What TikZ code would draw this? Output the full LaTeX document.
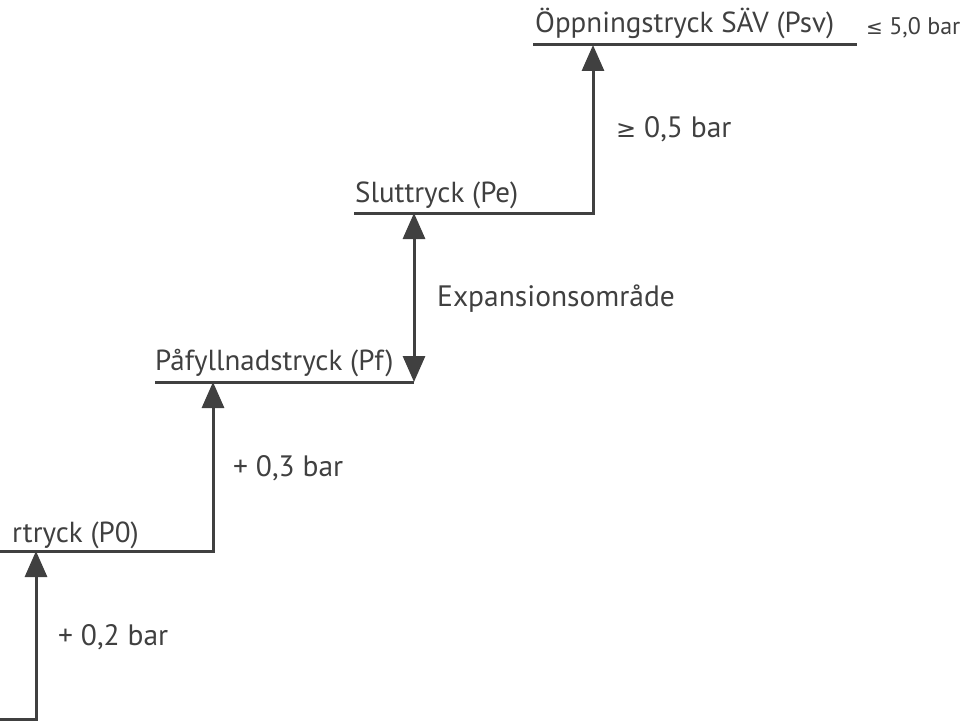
\documentclass[tikz,border=0pt]{standalone}
\usepackage{fontspec}
\setmainfont{PT Sans}
\newfontfamily\symf{DejaVu Sans}
\usetikzlibrary{arrows.meta}
\definecolor{ink}{HTML}{404040}
\begin{document}
\begin{tikzpicture}[x=1pt,y=-1pt,
  line/.style={draw=ink,line width=3pt,line join=miter},
  arr/.style={line,-{Triangle[length=26pt,width=22pt]}},
  darr/.style={line,{Triangle[length=26pt,width=22pt]}-{Triangle[length=26pt,width=22pt]}},
  lvl/.style={text=ink,font=\fontsize{29}{34}\selectfont,anchor=base west,inner sep=0pt},
  lab/.style={text=ink,font=\fontsize{29.5}{34}\selectfont,anchor=base west,inner sep=0pt},
  sml/.style={text=ink,font=\fontsize{24}{28}\selectfont,anchor=base west,inner sep=0pt}]
\useasboundingbox (0,0) rectangle (965,722);
% coordinates
\coordinate (b0) at (0,719);
\coordinate (b1) at (36,719);
\coordinate (p0l) at (0,551);
\coordinate (p0a) at (36,551);
\coordinate (p0r) at (213,551);
\coordinate (pfl) at (155,382);
\coordinate (pfa) at (213,382);
\coordinate (pfr) at (414,382);
\coordinate (pel) at (354,213);
\coordinate (pea) at (414,213);
\coordinate (per) at (593,213);
\coordinate (psl) at (533,45);
\coordinate (psa) at (593,45);
\coordinate (psr) at (857,45);
% steps
\draw[arr] (b0) -- (b1) -- (p0a);
\draw[arr] (p0l) -- (p0r) -- (pfa);
\draw[line] (pfl) -- (pfr);
\draw[darr] (pfr) -- (pea);
\draw[arr] (pel) -- (per) -- (psa);
\draw[line] (psl) -- (psr);
% level texts
\node[lvl] (t0) at (12,542) {rtryck (P0)};
\node[lvl] (tf) at (155,370) {Påfyllnadstryck (Pf)};
\node[lvl] (te) at (355,202) {Sluttryck (Pe)};
\node[lvl] (ts) at (535,33) {Öppningstryck SÄV (Psv)};
\node[sml] (tl) at (866,35) {{\symf\fontsize{20}{24}\selectfont ≤} 5,0 bar};
% step labels
\node[lab] (l1) at (58,645) {+ 0,2 bar};
\node[lab] (l2) at (233,476) {+ 0,3 bar};
\node[lab] (l3) at (437,306) {Expansionsområde};
\node[lab] (l4) at (616,138) {{\symf\fontsize{24}{28}\selectfont ≥} 0,5 bar};
\end{tikzpicture}
\end{document}
